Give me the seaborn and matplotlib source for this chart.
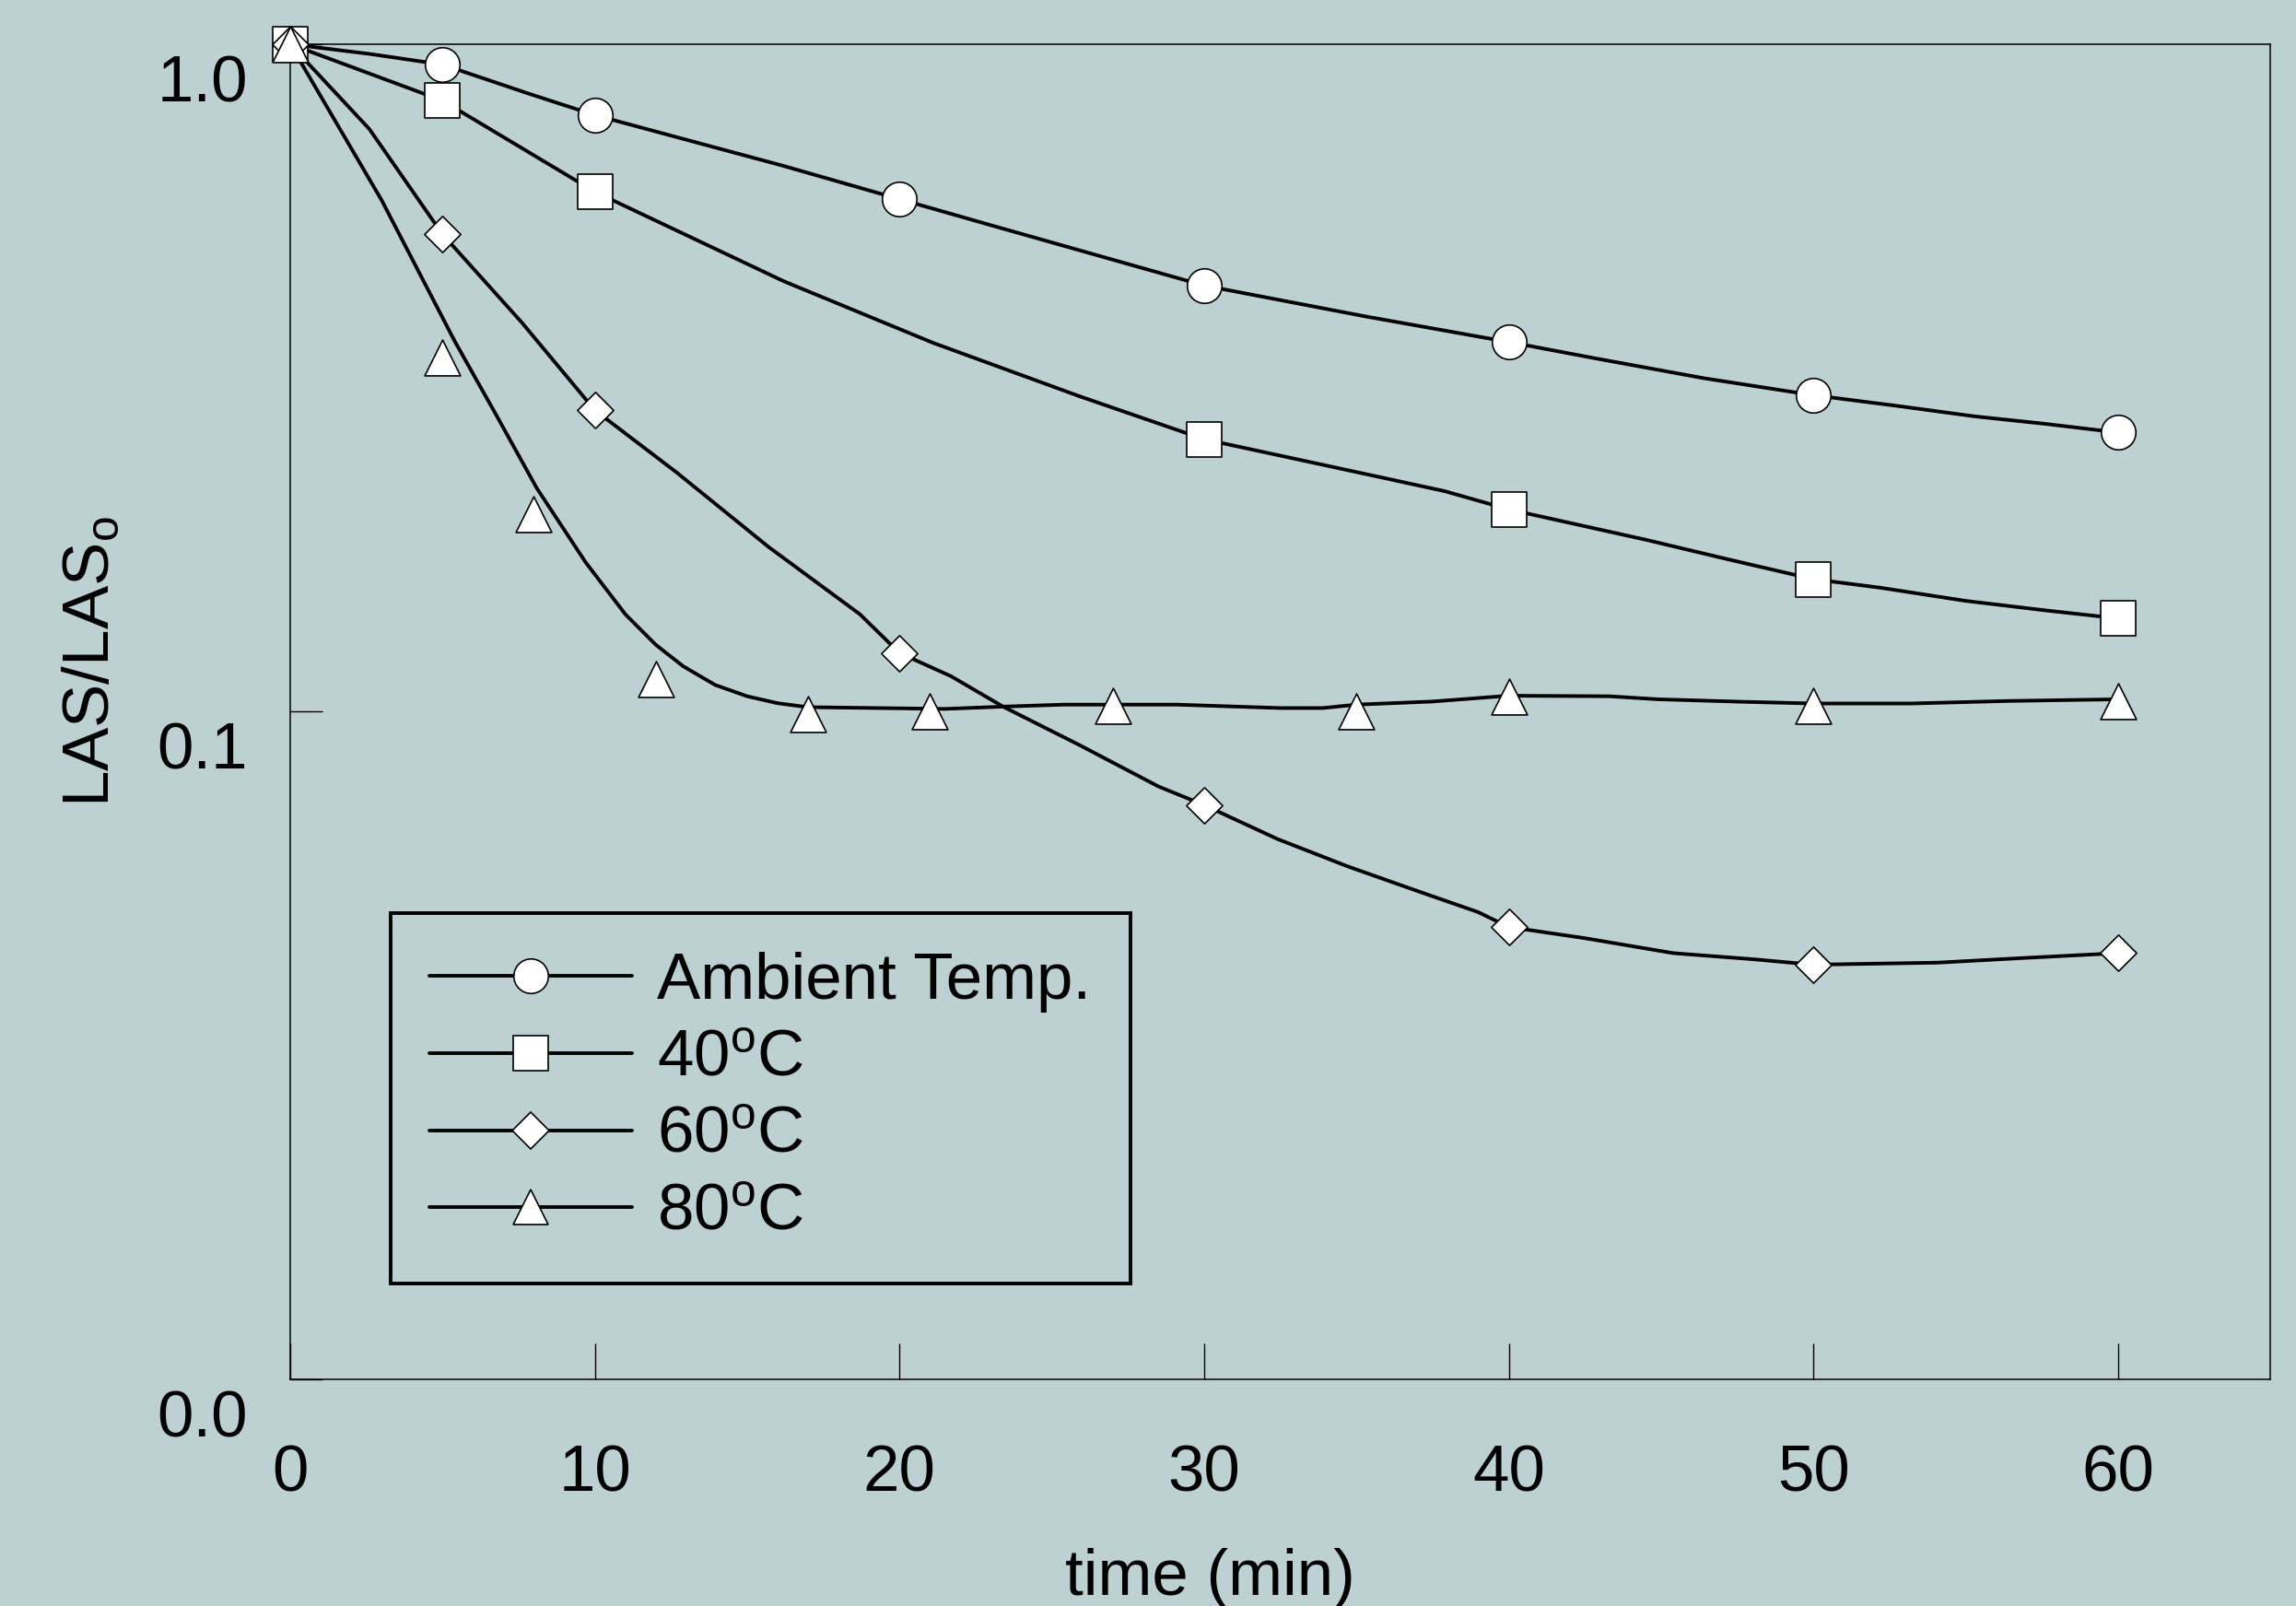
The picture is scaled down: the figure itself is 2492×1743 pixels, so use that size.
import matplotlib
matplotlib.use("Agg")
import matplotlib.pyplot as plt
import seaborn as sns
import pandas as pd
from matplotlib.lines import Line2D
from matplotlib.transforms import ScaledTranslation

# ---------------- data ----------------
series_labels = ["Ambient Temp.", "40$^{\\mathregular{o}}$C", "60$^{\\mathregular{o}}$C", "80$^{\\mathregular{o}}$C"]

# measured points (markers)
t_amb = [0, 5, 10, 20, 30, 40, 50, 60]
v_amb = [1.0, 0.932, 0.783, 0.586, 0.435, 0.358, 0.298, 0.262]
t_40 = [0, 5, 10, 30, 40, 50, 60]
v_40 = [1.0, 0.823, 0.601, 0.256, 0.201, 0.158, 0.138]
t_60 = [0, 5, 10, 20, 30, 40, 50, 60]
v_60 = [1.0, 0.519, 0.283, 0.1225, 0.0725, 0.0476, 0.0418, 0.0435]
t_80 = [0, 5, 8, 12, 17, 21, 27, 35, 40, 50, 60]
v_80 = [1.0, 0.339, 0.198, 0.112, 0.0991, 0.100, 0.102, 0.100, 0.1055, 0.102, 0.1038]

# smoothed curves drawn through / near the points
ct_amb = [0, 2.6, 5, 7.8, 10, 16.2, 20, 23.1, 30, 35.3, 40, 42.9, 46.4, 50, 52.8, 55.3, 57.6, 60]
cv_amb = [1.0, 0.967, 0.932, 0.844, 0.783, 0.657, 0.586, 0.534, 0.435, 0.391, 0.358, 0.338, 0.316, 0.298, 0.287, 0.277, 0.270, 0.262]
ct_40 = [0, 5, 10, 16.2, 21.1, 25.9, 30, 35.9, 37.9, 40, 44.5, 47.1, 50, 52.2, 55, 57.6, 60]
cv_40 = [1.0, 0.823, 0.601, 0.4415, 0.357, 0.297, 0.256, 0.224, 0.214, 0.201, 0.181, 0.1696, 0.158, 0.1534, 0.1466, 0.1419, 0.138]
ct_60 = [0, 2.6, 5, 7.6, 10, 12.7, 15.7, 18.7, 20, 21.7, 23.4, 25.9, 28.5, 30, 32.4, 34.7, 37.0, 39.0, 40, 42.5, 45.4, 48, 50, 54.1, 57, 60]
cv_60 = [1.0, 0.746, 0.519, 0.383, 0.283, 0.228, 0.1766, 0.140, 0.1225, 0.113, 0.1018, 0.0892, 0.0773, 0.0725, 0.0645, 0.0587, 0.0539, 0.0501, 0.0476, 0.0458, 0.0435, 0.0426, 0.0418, 0.0421, 0.0428, 0.0435]
ct_80 = [0, 3.0, 5.4, 6.75, 8.1, 9.7, 11.0, 12.0, 12.9, 13.95, 15.0, 16.0, 17.0, 21.5, 23.4, 25.4, 29.1, 32.5, 33.9, 35.0, 37.5, 40, 43.3, 44.9, 47.7, 50, 53.2, 56.4, 60]
cv_80 = [1.0, 0.584, 0.359, 0.279, 0.216, 0.1674, 0.140, 0.126, 0.117, 0.1097, 0.1055, 0.1030, 0.1016, 0.101, 0.1018, 0.1025, 0.1025, 0.1013, 0.1013, 0.1025, 0.1036, 0.1057, 0.1055, 0.1044, 0.1035, 0.1029, 0.1029, 0.1038, 0.1044]

x_ticks = [0, 10, 20, 30, 40, 50, 60]
y_ticks = [0.01, 0.1, 1.0]
y_ticklabels = ["0.0", "0.1", "1.0"]

# ---------------- style ----------------
sns.set_theme(style="white")
plt.rcParams["font.family"] = ["Liberation Sans", "DejaVu Sans"]
plt.rcParams["mathtext.fontset"] = "custom"
plt.rcParams["mathtext.rm"] = "Liberation Sans"
plt.rcParams["mathtext.it"] = "Liberation Sans:italic"
plt.rcParams["mathtext.bf"] = "Liberation Sans:bold"
for k in ["text.color", "axes.labelcolor", "xtick.color", "ytick.color", "axes.edgecolor"]:
    plt.rcParams[k] = "black"

BG = "#BDD0D2"
FS = 51
LW = 2.8

fig = plt.figure(figsize=(24.92, 17.43), dpi=100, facecolor=BG)
ax = fig.add_axes([0.1264, 0.1411, 0.9888 - 0.1264, 0.9725 - 0.1411])
ax.set_facecolor(BG)

curves = [(ct_amb, cv_amb), (ct_40, cv_40), (ct_60, cv_60), (ct_80, cv_80)]
points = [(t_amb, v_amb), (t_40, v_40), (t_60, v_60), (t_80, v_80)]
markers = ["o", "s", "D", "^"]
msizes = [27, 28, 20, 28]

for (ct, cv) in curves:
    df = pd.DataFrame({"t": ct, "v": cv})
    sns.lineplot(data=df, x="t", y="v", ax=ax, color="black", linewidth=LW,
                 sort=False, estimator=None, zorder=2)

for (t, v), m, ms in zip(points, markers, msizes):
    df = pd.DataFrame({"t": t, "v": v})
    sns.scatterplot(data=df, x="t", y="v", ax=ax, marker=m, s=ms ** 2,
                    color="white", edgecolor="black", linewidth=1.2,
                    zorder=3, clip_on=False)

ax.set_yscale("log")
ax.set_xlim(0, 65)
ax.set_ylim(0.01, 1.0)
ax.set_xticks(x_ticks)
ax.set_xticklabels([str(x) for x in x_ticks])
ax.set_yticks(y_ticks)
ax.set_yticklabels(y_ticklabels)
ax.yaxis.set_minor_locator(matplotlib.ticker.NullLocator())
ax.tick_params(axis="x", direction="in", length=28, width=1.0, pad=51,
               labelsize=FS, colors="black", bottom=True)
ax.tick_params(axis="y", direction="in", length=25, width=1.0, pad=33,
               labelsize=FS, colors="black", left=True)
for lab in ax.get_yticklabels():
    lab.set_transform(lab.get_transform() + ScaledTranslation(0, -0.37, fig.dpi_scale_trans))

for sp in ax.spines.values():
    sp.set_color("black")
    sp.set_linewidth(1.1)
    sp.set_visible(True)

ax.set_xlabel("time (min)", fontsize=FS, color="black")
ax.xaxis.set_label_coords(0.4644, -0.1265)
ax.set_ylabel("LAS/LAS$_{\\mathregular{o}}$", fontsize=FS, color="black",
              va="center", ha="center")
ax.yaxis.set_label_coords(-0.1, 0.5376)

handles = [Line2D([], [], color="black", lw=LW, marker=m, markersize=ms,
                  markerfacecolor="white", markeredgecolor="black", markeredgewidth=1.2)
           for m, ms in zip(markers, msizes)]
leg = ax.legend(handles, series_labels, loc="upper left", bbox_to_anchor=(0.0507, 0.3495),
                borderaxespad=0, fontsize=FS, frameon=True, fancybox=False,
                edgecolor="black", facecolor=BG, framealpha=1,
                handlelength=3.1, handletextpad=0.38, borderpad=0.6, labelspacing=0.25)
leg.get_frame().set_linewidth(2.8)
for txt in leg.get_texts():
    txt.set_color("black")

fig.savefig("out.png", dpi=100, facecolor=BG)
